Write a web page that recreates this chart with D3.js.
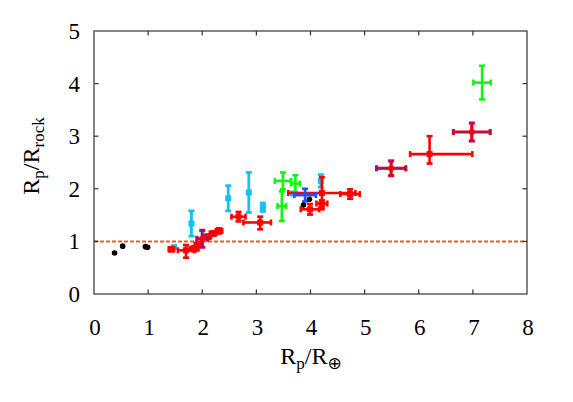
<!DOCTYPE html>
<html><head><meta charset="utf-8">
<script src="https://cdn.jsdelivr.net/npm/d3@7"></script>
<style>body{margin:0;background:#fff}svg{display:block}text{font-family:"Liberation Serif","Times New Roman",serif}</style>
</head><body>
<svg id="c" width="573" height="402"></svg>
<script>
// ---- data ----
const xTicks = [0,1,2,3,4,5,6,7,8];
const yTicks = [0,1,2,3,4,5];

// black points (no error bars)
const blackX = [0.38,0.53,0.95,0.99,3.87,3.98];
const blackY = [0.78,0.91,0.90,0.89,1.69,1.80];

// cyan points (vertical error bars)
const cyanX   = [1.48,1.80,2.48,2.86,3.12,3.68,4.19];
const cyanY   = [0.89,1.34,1.82,1.93,1.65,1.91,2.15];
const cyanErr = [0.02,0.24,0.24,0.38,0.08,0.02,0.12];

// green points
const greenX    = [3.49,3.72,3.47,7.17];
const greenY    = [2.15,2.10,1.67,4.02];
const greenXErr = [0.15,0.08,0.08,0.16];
const greenYErr = [0.16,0.16,0.28,0.32];

// red points (asymmetric errors)
const redX   = [1.43,1.70,1.85,1.92,2.10,2.20,2.31,2.67,3.07,4.21,4.73,3.99,4.21,6.20];
const redY   = [0.85,0.83,0.86,0.94,1.09,1.15,1.20,1.47,1.36,1.92,1.90,1.61,1.72,2.66];
const redXLo = [0.05,0.15,0.08,0.06,0.06,0.06,0.06,0.13,0.31,0.62,0.18,0.17,0.10,0.36];
const redXHi = [0.05,0.15,0.08,0.06,0.06,0.06,0.06,0.13,0.20,0.62,0.18,0.17,0.10,0.79];
const redYLo = [0.04,0.14,0.05,0.04,0.04,0.04,0.05,0.09,0.13,0.31,0.09,0.10,0.06,0.18];
const redYHi = [0.04,0.10,0.05,0.04,0.04,0.04,0.05,0.09,0.11,0.30,0.09,0.10,0.06,0.34];

// red points with blue dotted overlay
const rbX    = [2.00,5.49,6.98];
const rbY    = [1.05,2.39,3.08];
const rbXErr = [0.10,0.27,0.34];
const rbYErr = [0.16,0.14,0.17];

// blue point
const blueX    = [3.90];
const blueY    = [1.88];
const blueXErr = [0.20];
const blueYErr = [0.12];

const refLine = 1;

// ---- layout ----
const svg = d3.select("#c");
const L = 94, R = 527, T = 31, B = 294;
const x = d3.scaleLinear().domain([0,8]).range([L,R]);
const y = d3.scaleLinear().domain([0,5]).range([B,T]);
const g = svg.append("g");

// reference line
g.append("line").attr("x1",x(0)).attr("x2",x(8)).attr("y1",y(refLine)).attr("y2",y(refLine))
 .attr("stroke","#e0622a").attr("stroke-width",2).attr("stroke-dasharray","4,2");

function errCross(sel, px, py, xlo, xhi, ylo, yhi, color, w, cap, dash){
  const grp = sel.append("g").attr("stroke",color).attr("stroke-width",w).attr("fill","none");
  if (dash) grp.attr("stroke-dasharray",dash);
  if (xlo>0 || xhi>0){
    grp.append("line").attr("x1",x(px-xlo)).attr("x2",x(px+xhi)).attr("y1",y(py)).attr("y2",y(py));
    grp.append("line").attr("x1",x(px-xlo)).attr("x2",x(px-xlo)).attr("y1",y(py)-cap).attr("y2",y(py)+cap);
    grp.append("line").attr("x1",x(px+xhi)).attr("x2",x(px+xhi)).attr("y1",y(py)-cap).attr("y2",y(py)+cap);
  }
  if (ylo>0 || yhi>0){
    grp.append("line").attr("x1",x(px)).attr("x2",x(px)).attr("y1",y(py-ylo)).attr("y2",y(py+yhi));
    grp.append("line").attr("x1",x(px)-cap).attr("x2",x(px)+cap).attr("y1",y(py-ylo)).attr("y2",y(py-ylo));
    grp.append("line").attr("x1",x(px)-cap).attr("x2",x(px)+cap).attr("y1",y(py+yhi)).attr("y2",y(py+yhi));
  }
  return grp;
}

// cyan
const cyan = "#12c2f6";
cyanX.forEach((v,i)=>{
  errCross(g, v, cyanY[i], 0,0, cyanErr[i], cyanErr[i], cyan, 2.8, 3);
  g.append("rect").attr("x",x(v)-3).attr("y",y(cyanY[i])-3).attr("width",6).attr("height",6).attr("fill",cyan);
});
// green
const green = "#12f512";
greenX.forEach((v,i)=>{
  errCross(g, v, greenY[i], greenXErr[i], greenXErr[i], greenYErr[i], greenYErr[i], green, 2.6, 3);
});
// red
const red = "#ff0000";
redX.forEach((v,i)=>{
  errCross(g, v, redY[i], redXLo[i], redXHi[i], redYLo[i], redYHi[i], red, 2.6, 3);
  g.append("rect").attr("x",x(v)-3).attr("y",y(redY[i])-3).attr("width",6).attr("height",6).attr("fill",red);
});
// red + blue dotted
rbX.forEach((v,i)=>{
  errCross(g, v, rbY[i], rbXErr[i], rbXErr[i], rbYErr[i], rbYErr[i], red, 3.2, 3);
  errCross(g, v, rbY[i], rbXErr[i], rbXErr[i], rbYErr[i], rbYErr[i], "#2a2aff", 1.5, 2.5, "1.5,1.5");
  g.append("rect").attr("x",x(v)-2.5).attr("y",y(rbY[i])-2.5).attr("width",5).attr("height",5).attr("fill",red);
});
// blue
const blue = "#1e50ff";
blueX.forEach((v,i)=>{
  errCross(g, v, blueY[i], blueXErr[i], blueXErr[i], blueYErr[i], blueYErr[i], blue, 2.6, 3);
});
// black
blackX.forEach((v,i)=>{
  g.append("circle").attr("cx",x(v)).attr("cy",y(blackY[i])).attr("r",2.8).attr("fill","#000");
});

// ---- axes / frame ----
const axisColor = "#333";
const fr = svg.append("g").attr("stroke",axisColor).attr("stroke-width",1.2);
fr.append("rect").attr("x",L).attr("y",T).attr("width",R-L).attr("height",B-T).attr("fill","none");
const tl = 4.5;
xTicks.forEach(t=>{
  if (t>0 && t<8){
    fr.append("line").attr("x1",x(t)).attr("x2",x(t)).attr("y1",B).attr("y2",B-tl);
    fr.append("line").attr("x1",x(t)).attr("x2",x(t)).attr("y1",T).attr("y2",T+tl);
  }
  svg.append("text").attr("x",x(t)+1).attr("y",335).attr("text-anchor","middle")
    .attr("font-size",23).text(t);
});
yTicks.forEach(t=>{
  if (t>0 && t<5){
    fr.append("line").attr("x1",L).attr("x2",L+tl).attr("y1",y(t)).attr("y2",y(t));
    fr.append("line").attr("x1",R).attr("x2",R-tl).attr("y1",y(t)).attr("y2",y(t));
  }
  svg.append("text").attr("x",80).attr("y",y(t)+8).attr("text-anchor","end")
    .attr("font-size",23).text(t);
});

// axis titles
const xt = svg.append("text").attr("x",311).attr("y",364).attr("text-anchor","middle").attr("font-size",24);
xt.append("tspan").text("R");
xt.append("tspan").attr("font-size",17).attr("dy",5).text("p");
xt.append("tspan").attr("dy",-5).text("/R");
xt.append("tspan").attr("font-size",17).attr("dy",5).attr("font-family","DejaVu Sans").text("⊕");

const yt = svg.append("text").attr("transform","translate(39,156) rotate(-90)").attr("text-anchor","middle").attr("font-size",24);
yt.append("tspan").text("R");
yt.append("tspan").attr("font-size",17).attr("dy",5).text("p");
yt.append("tspan").attr("dy",-5).text("/R");
yt.append("tspan").attr("font-size",17).attr("dy",5).text("rock");
</script>
</body></html>
